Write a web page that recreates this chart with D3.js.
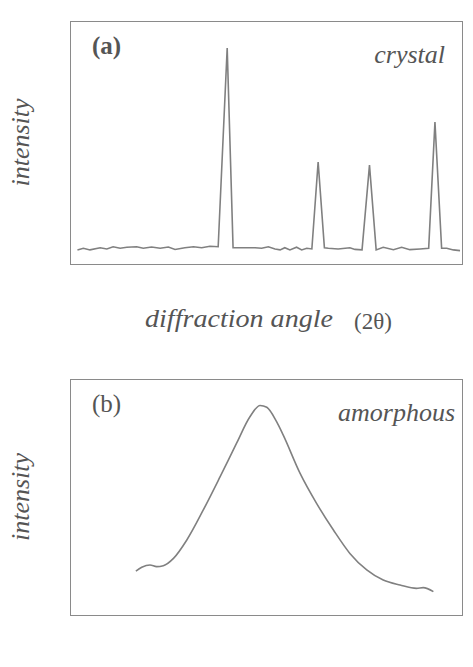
<!DOCTYPE html>
<html>
<head>
<meta charset="utf-8">
<script src="https://cdn.jsdelivr.net/npm/d3@7"></script>
<style>
  html, body { margin: 0; padding: 0; background: #fff; }
  svg text { font-family: "Liberation Serif", "DejaVu Serif", serif; fill: #555; }
</style>
</head>
<body>
<svg id="chart" width="473" height="667"></svg>
<script>
  // panel (a): crystal, sharp Bragg peaks on a noisy baseline  [2θ (arb.), intensity]
  const crystalAngle = [1.9, 3.4, 5.1, 7.7, 9.4, 11.0, 12.8, 14.5, 17.0, 18.7, 20.8, 23.0, 25.1, 26.8,
    29.3, 31.5, 33.6, 35.7, 37.8, 40.1, 41.6, 47.2, 48.9, 50.6, 52.3, 53.6, 54.8, 56.1, 57.8, 59.1,
    60.4, 61.7, 63.3, 64.9, 65.9, 68.4, 71.4, 72.7, 74.5, 76.4, 78.1, 79.9, 82.5, 84.6, 86.7, 89.3,
    91.5, 93.1, 94.8, 96.1, 97.8, 99.5];
  const crystalIntensity = [5.8, 6.5, 5.8, 6.7, 6.2, 7.1, 6.5, 6.9, 7.1, 6.5, 7.0, 6.5, 7.0, 6.0,
    6.7, 7.1, 6.7, 7.3, 7.1, 88.9, 6.7, 6.7, 6.5, 7.1, 6.2, 5.8, 6.7, 5.8, 6.9, 5.8,
    6.5, 6.2, 42.0, 6.7, 6.5, 6.2, 6.7, 6.0, 5.8, 40.7, 5.8, 6.9, 5.9, 6.9, 5.9, 6.2,
    6.5, 58.4, 6.5, 6.5, 5.8, 5.5];

  // panel (b): amorphous, one broad hump
  const amorphAngle = [16.8, 18.3, 20.4, 22.1, 23.8, 26.4, 29.8, 34.0, 38.3, 42.5, 45.9, 48.5, 50.2,
    52.7, 54.4, 58.7, 62.9, 67.2, 71.4, 75.7, 79.9, 84.2, 88.4, 90.1, 92.7];
  const amorphIntensity = [18.6, 20.2, 21.2, 20.5, 20.9, 24.0, 31.8, 44.5, 58.6, 72.8, 84.0, 88.8, 88.0,
    81.9, 76.2, 60.0, 47.3, 36.0, 26.1, 19.1, 14.8, 12.7, 11.3, 11.6, 9.9];

  const panels = [
    { tag: '(a)', bold: true, name: 'crystal', nameRight: 445, top: 21, bottom: 264,
      xs: crystalAngle, ys: crystalIntensity, curve: d3.curveLinear },
    { tag: '(b)', bold: false, name: 'amorphous', nameRight: 455, top: 379, bottom: 615,
      xs: amorphAngle, ys: amorphIntensity, curve: d3.curveMonotoneX }
  ];

  const svg = d3.select('#chart');
  const left = 70, right = 462;

  const x = d3.scaleLinear().domain([0, 100]).range([left, right]);

  panels.forEach(p => {
    const y = d3.scaleLinear().domain([0, 100]).range([p.bottom, p.top]);
    const g = svg.append('g');

    g.append('rect')
      .attr('x', left + 0.5)
      .attr('y', p.top + 0.5)
      .attr('width', right - left)
      .attr('height', p.bottom - p.top)
      .attr('fill', 'none')
      .attr('stroke', '#8a8a8a')
      .attr('stroke-width', 1);

    const pts = p.xs.map((v, i) => [v, p.ys[i]]);
    const line = d3.line()
      .x(d => x(d[0]))
      .y(d => y(d[1]))
      .curve(p.curve);

    g.append('path')
      .datum(pts)
      .attr('d', line)
      .attr('fill', 'none')
      .attr('stroke', '#808080')
      .attr('stroke-width', 1.6)
      .attr('stroke-linejoin', 'miter');

    g.append('text')
      .attr('x', left + 22)
      .attr('y', p.top + 33)
      .style('font-size', '25px')
      .style('font-weight', p.bold ? '700' : '400')
      .text(p.tag);

    g.append('text')
      .attr('x', p.nameRight)
      .attr('y', p.top + 42)
      .attr('text-anchor', 'end')
      .style('font-size', '26px')
      .style('font-style', 'italic')
      .text(p.name);

    const mid = (p.top + p.bottom) / 2;
    g.append('text')
      .attr('transform', `translate(29,${mid}) rotate(-90)`)
      .attr('text-anchor', 'middle')
      .style('font-size', '26px')
      .style('font-style', 'italic')
      .text('intensity');
  });

  // shared x-axis title between the panels
  svg.append('text')
    .attr('x', 145)
    .attr('y', 327)
    .attr('textLength', 188)
    .attr('lengthAdjust', 'spacingAndGlyphs')
    .style('font-size', '26px')
    .style('font-style', 'italic')
    .text('diffraction angle');

  svg.append('text')
    .attr('x', 354)
    .attr('y', 329)
    .style('font-size', '23px')
    .text('(2\u03b8)');
</script>
</body>
</html>
